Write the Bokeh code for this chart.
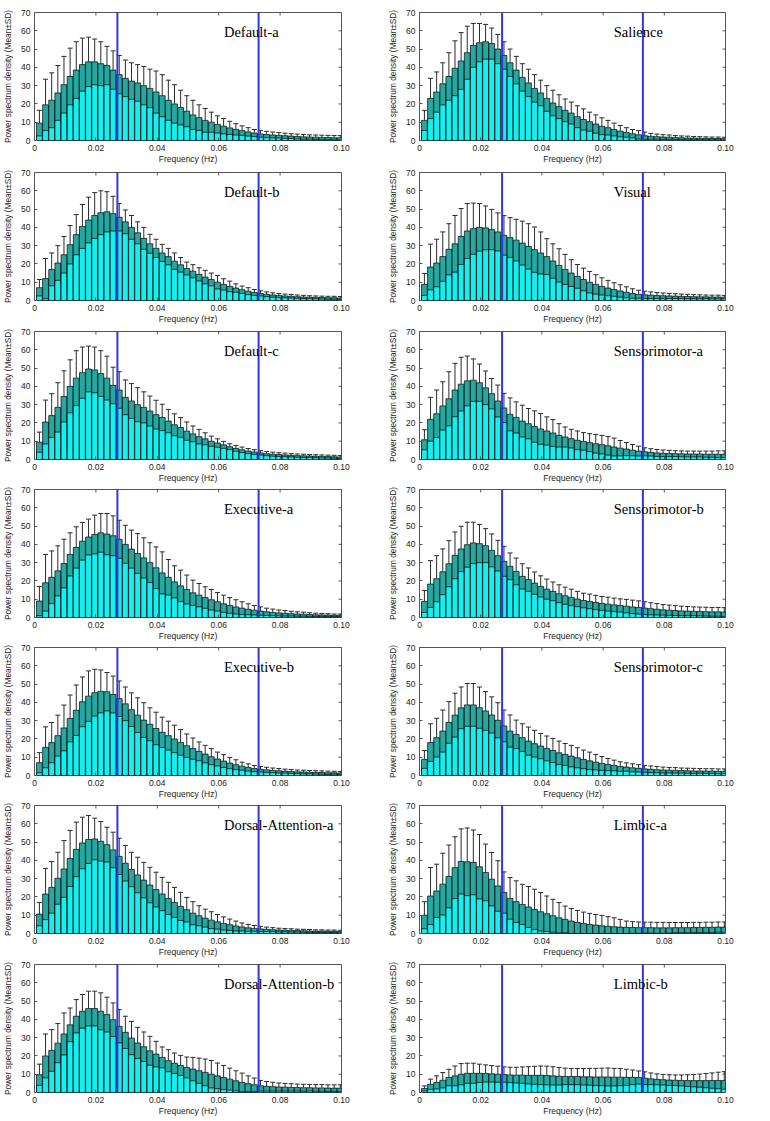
import math
from bokeh.plotting import figure
from bokeh.layouts import gridplot
from bokeh.models import (ColumnDataSource, Range1d, FixedTicker,
                          Span, Whisker, TeeHead, Label)
from bokeh.embed import file_html
from bokeh.resources import INLINE

# frequency bin centres (Hz), 50 bins between 0 and 0.1 Hz
freqs = [round(0.0016 + 0.002 * k, 4) for k in range(50)]
band_edges = [0.027, 0.073]          # slow-4 band limits (Hz)
x_ticks = [0, 0.02, 0.04, 0.06, 0.08, 0.1]
x_tick_labels = ["0", "0.02", "0.04", "0.06", "0.08", "0.10"]
y_ticks = [0, 10, 20, 30, 40, 50, 60, 70]

mean_default_a = [9.5, 19.5, 22, 26, 30.5, 35, 38.5, 41.5, 43, 43,
                  42, 41, 38.5, 36, 34, 32.5, 31.5, 30, 28.5, 26.5,
                  24.5, 22, 20, 18, 16, 14, 12.5, 11, 10, 8.8,
                  7.8, 6.9, 6.1, 5.4, 4.7, 4.1, 3.6, 3.3, 3.0, 2.8,
                  2.6, 2.4, 2.2, 2.0, 1.9, 1.8, 1.7, 1.6, 1.5, 1.5]
sd_default_a = [7, 14, 15, 15, 15.5, 15.5, 15.5, 14.5, 13.5, 12.5,
                12, 10.5, 10.5, 10.5, 10, 10, 10, 10.5, 10.5, 11.5,
                11.5, 11, 10.5, 9.5, 8.5, 8, 7, 6.5, 5.5, 4.7,
                4.2, 3.6, 3.1, 2.6, 2.3, 1.9, 1.8, 1.7, 1.6, 1.5,
                1.4, 1.3, 1.3, 1.3, 1.2, 1.2, 1.2, 1.2, 1.2, 1.2]

mean_salience = [11, 23, 26.5, 31, 35, 39.5, 43.5, 48, 52, 53.5,
                 54, 53, 50, 46.5, 42.5, 38.5, 34.5, 31.5, 28.5, 26,
                 23, 20.5, 18.5, 16.5, 15, 13, 11.5, 10.3, 9, 7.8,
                 7, 6, 5.1, 4.4, 3.7, 3.1, 2.6, 2.3, 2.1, 1.9,
                 1.8, 1.6, 1.5, 1.4, 1.3, 1.2, 1.2, 1.1, 1.1, 1.0]
sd_salience = [5.5, 11, 11, 11.5, 13, 15, 15.5, 14.5, 12, 10.5,
               9.5, 8.5, 8, 7.5, 7.5, 7.5, 7.5, 7.5, 7.5, 7,
               7, 7, 6.5, 6.2, 6, 6, 5.8, 5.2, 5, 4.6,
               4, 3.5, 3.1, 2.6, 2.3, 2.3, 2.0, 1.6, 1.4, 1.3,
               1.2, 1.1, 1.0, 1.0, 0.9, 0.9, 0.8, 0.8, 0.8, 0.8]

mean_default_b = [7, 12, 17, 20.5, 25, 30.5, 36, 40.5, 44, 46.5,
                  48, 48.5, 47.5, 45.5, 43, 40, 37, 34, 31, 28.5,
                  26, 24, 21.5, 19.5, 17.5, 16, 14.3, 12.8, 11.5, 10,
                  8.8, 7.7, 6.8, 5.9, 5.1, 4.4, 3.9, 3.4, 3.0, 2.7,
                  2.5, 2.3, 2.1, 1.9, 1.8, 1.7, 1.6, 1.5, 1.5, 1.4]
sd_default_b = [4.5, 11, 9, 9.5, 10, 10.5, 11, 12, 12.5, 12.5,
                12, 11, 9.5, 7.5, 6.5, 6.5, 6, 6, 5.2, 5,
                4.7, 4.5, 4.5, 4, 3.5, 3.6, 3.6, 3.7, 3.5, 3.7,
                3.1, 2.9, 2.3, 2.0, 1.9, 1.6, 1.4, 1.3, 1.2, 1.1,
                1.0, 1.0, 0.9, 0.9, 0.8, 0.8, 0.8, 0.8, 0.8, 0.8]

mean_visual = [8.8, 18.3, 20.5, 24, 28, 31, 35, 38, 39.3, 40,
               39.7, 38.8, 37.5, 35.6, 34.4, 33, 31.4, 29.6, 27.8, 26,
               24, 21.6, 19.2, 17, 15, 13.2, 11.5, 10, 8.8, 7.7,
               6.8, 6, 5.2, 4.5, 3.8, 3.4, 3.1, 2.9, 2.7, 2.6,
               2.5, 2.4, 2.3, 2.2, 2.1, 2.0, 2.0, 1.9, 1.9, 1.8]
sd_visual = [6, 12.5, 13, 13.5, 14, 15.5, 15.3, 15, 14, 13,
             12, 11, 10.4, 10.8, 10.9, 11.4, 12, 12.4, 12.4, 11.5,
             9.8, 9.4, 9.1, 8.2, 7.3, 6.5, 6.2, 5.9, 5.3, 4.7,
             4.2, 3.7, 3.4, 3.0, 2.6, 2.2, 2.0, 1.8, 1.6, 1.5,
             1.4, 1.3, 1.2, 1.2, 1.1, 1.1, 1.0, 1.0, 1.0, 1.0]

mean_default_c = [9.5, 20.5, 24, 28.5, 34.5, 40, 44.5, 47.5, 49.5, 49,
                  47, 44.5, 40.5, 38, 34, 32, 30, 28.5, 26.5, 24.5,
                  23, 21, 19, 17.5, 15.5, 14, 12.5, 11.3, 10, 9,
                  8, 7, 6.1, 5.3, 4.6, 4.1, 3.6, 3.2, 2.9, 2.7,
                  2.5, 2.3, 2.1, 2.0, 1.9, 1.8, 1.7, 1.6, 1.5, 1.4]
sd_default_c = [5.5, 12, 12, 13.5, 14, 14.5, 15, 14, 12.5, 12.5,
                12.5, 12, 10, 10, 9.5, 9.5, 9.3, 8.5, 8.2, 7.9,
                7.2, 6.4, 6, 5.4, 5, 4.3, 4, 3.3, 2.8, 2.3,
                1.9, 1.6, 1.6, 1.5, 1.4, 1.3, 1.2, 1.1, 1.1, 1.0,
                1.0, 0.9, 0.9, 0.9, 0.8, 0.8, 0.8, 0.8, 0.8, 0.8]

mean_sensorimotor_a = [10.8, 22, 25, 29.3, 33.2, 38, 41.2, 43, 43.4, 42,
                       39.2, 36, 32, 28.2, 24.7, 23, 21, 19.6, 18, 16.7,
                       15.6, 14.5, 13.2, 12.3, 11.4, 10.5, 9.9, 9.2, 8.6, 8.1,
                       7.5, 6.8, 6.2, 5.7, 5.1, 4.6, 4.2, 3.9, 3.6, 3.4,
                       3.3, 3.2, 3.1, 3.0, 3.0, 3.0, 2.9, 2.9, 2.9, 2.9]
sd_sensorimotor_a = [5.5, 12, 13, 13.2, 14.8, 14.6, 14.7, 13.6, 11.6, 10.2,
                     9.2, 8.3, 8.7, 8, 9, 8.5, 8.7, 8.3, 8.6, 8.4,
                     7.7, 7.3, 6.4, 5.5, 5.1, 5.1, 4.8, 4.9, 5.1, 5.1,
                     5.1, 4.9, 4.2, 3.6, 3.1, 2.7, 2.2, 2.0, 1.9, 1.8,
                     1.7, 1.6, 1.6, 1.6, 1.6, 1.6, 1.7, 1.7, 1.8, 1.8]

mean_executive_a = [9, 19, 22, 25.5, 29.5, 34.5, 38.3, 41.7, 44, 45.4,
                    46.3, 45.6, 44.7, 42.8, 40, 37.4, 35, 32.6, 30, 27.2,
                    24.4, 22, 19.5, 17.3, 15.3, 13.5, 12.2, 10.9, 9.7, 8.6,
                    7.5, 6.6, 5.8, 5.1, 4.5, 4.0, 3.5, 3.1, 2.8, 2.5,
                    2.3, 2.1, 1.9, 1.8, 1.6, 1.5, 1.4, 1.3, 1.2, 1.2]
sd_executive_a = [8, 15.5, 14.4, 13.7, 13.3, 11.8, 11.3, 10.3, 9.8, 10.6,
                  10.6, 11.3, 10.9, 10.4, 10.4, 10.4, 10.9, 11, 10.9, 11.4,
                  11.5, 9.7, 8.8, 8.6, 7.9, 6.9, 6.4, 5.9, 5.6, 5.1,
                  4.7, 4.3, 3.9, 3.5, 3.0, 2.6, 2.3, 2.0, 1.8, 1.6,
                  1.5, 1.3, 1.2, 1.1, 1.0, 0.9, 0.8, 0.8, 0.7, 0.7]

mean_sensorimotor_b = [8.8, 18.3, 21.2, 25, 29.4, 34, 37.5, 39.8, 40.8, 40.4,
                       39.3, 36.7, 33.8, 30.7, 28, 25.2, 22.5, 20.7, 18.8, 17,
                       15.5, 14.3, 13, 11.9, 11, 10.1, 9.3, 8.8, 8.2, 7.7,
                       7.3, 6.9, 6.6, 6.2, 5.8, 5.5, 5.1, 4.8, 4.5, 4.2,
                       4.0, 3.8, 3.6, 3.5, 3.4, 3.3, 3.2, 3.1, 3.1, 3.0]
sd_sensorimotor_b = [6, 12.8, 12.6, 12.5, 12.6, 12.8, 12.4, 12.3, 11.3, 10.4,
                     9.3, 9, 8.4, 8.2, 7.3, 7.3, 6.9, 6.4, 6.1, 5.8,
                     5.5, 5.1, 4.9, 4.7, 4.5, 4.2, 4.0, 4.0, 3.9, 3.8,
                     3.8, 3.7, 3.6, 3.7, 3.7, 3.6, 3.5, 3.3, 3.1, 2.9,
                     2.8, 2.7, 2.6, 2.5, 2.4, 2.4, 2.4, 2.4, 2.4, 2.4]

mean_executive_b = [7, 15.4, 18, 21.8, 26, 31.2, 35.7, 40.3, 43.4, 45.3,
                    46, 45.8, 44.3, 42, 39.2, 36, 33, 30.3, 28, 25.7,
                    23.6, 21.8, 20, 18.1, 16.3, 14.7, 13.2, 11.7, 10.3, 9,
                    7.9, 6.8, 5.9, 5.1, 4.4, 3.8, 3.4, 3.1, 2.8, 2.6,
                    2.4, 2.2, 2.0, 1.9, 1.8, 1.7, 1.6, 1.5, 1.5, 1.4]
sd_executive_b = [5.5, 11.2, 11, 11.2, 12.5, 12.8, 13.8, 13.6, 13.8, 12.8,
                  11.7, 10.5, 10.1, 9.7, 9.2, 9.2, 9.5, 9.5, 9, 8.9,
                  8.3, 7.9, 7.5, 7, 6.4, 5.8, 5.1, 4.8, 4.4, 3.8,
                  3.5, 3.1, 2.7, 2.2, 2.0, 1.7, 1.5, 1.4, 1.3, 1.2,
                  1.1, 1.1, 1.0, 1.0, 0.9, 0.9, 0.9, 0.9, 0.8, 0.8]

mean_sensorimotor_c = [8.8, 18, 20.7, 24.3, 29, 33, 37, 38.6, 38.6, 37.1,
                       35.3, 33.1, 30.2, 27.1, 24.3, 22.5, 20.7, 18.8, 17.4, 16.1,
                       14.8, 13.7, 12.4, 11.5, 10.6, 9.7, 8.8, 8, 7.3, 6.6,
                       6, 5.5, 4.9, 4.6, 4.2, 3.9, 3.6, 3.4, 3.2, 3.0,
                       2.9, 2.8, 2.7, 2.6, 2.5, 2.5, 2.4, 2.4, 2.3, 2.3]
sd_sensorimotor_c = [4.9, 10.3, 10.6, 11.5, 11.4, 12, 11.4, 11.7, 11.7, 11.3,
                     10.6, 9.9, 9.6, 8.7, 8.8, 7.8, 7.6, 7.7, 7.3, 6.9,
                     6.8, 6.6, 6.4, 6, 5.9, 5.5, 5.1, 4.8, 4.2, 3.8,
                     3.3, 2.9, 2.6, 2.3, 2.2, 2.0, 1.9, 1.8, 1.7, 1.6,
                     1.5, 1.5, 1.4, 1.4, 1.4, 1.3, 1.3, 1.3, 1.3, 1.3]

mean_dorsal_attention_a = [10.6, 21.6, 25.2, 30.2, 35.3, 41, 46, 49.5, 51.4, 51.7,
                           50.4, 48.6, 45.7, 42.2, 38.4, 35, 32, 29.2, 26.5, 24,
                           21.6, 19.2, 17, 14.8, 13, 11.1, 9.7, 8.4, 7.3, 6.4,
                           5.5, 4.8, 4.1, 3.6, 3.1, 2.8, 2.5, 2.3, 2.1, 1.9,
                           1.8, 1.7, 1.6, 1.5, 1.4, 1.3, 1.3, 1.2, 1.2, 1.1]
sd_dorsal_attention_a = [6.4, 14, 14.1, 14.2, 15.5, 15.3, 14.9, 14.1, 13.1, 11.4,
                         10.8, 9.5, 9.7, 9.9, 9.7, 9.4, 9.7, 9.7, 9.7, 9.5,
                         9.1, 8.8, 8.2, 7.7, 6.7, 6.3, 5.5, 4.9, 4.6, 4.0,
                         3.6, 3.1, 2.7, 2.2, 1.9, 1.6, 1.4, 1.2, 1.1, 1.0,
                         0.9, 0.9, 0.8, 0.8, 0.8, 0.7, 0.7, 0.7, 0.7, 0.7]

mean_limbic_a = [10, 20.5, 23.3, 27, 31.2, 36, 39.4, 39.2, 38.9, 36.5,
                 33.4, 29.7, 26, 22.4, 19.2, 17.4, 15.9, 14.5, 13.2, 11.9,
                 10.8, 9.7, 8.6, 7.7, 6.8, 6, 5.5, 4.9, 4.6, 4.2,
                 3.9, 3.7, 3.5, 3.4, 3.3, 3.2, 3.2, 3.2, 3.1, 3.1,
                 3.1, 3.2, 3.2, 3.2, 3.3, 3.3, 3.4, 3.4, 3.5, 3.5]
sd_limbic_a = [7.4, 15.6, 14.6, 16.9, 17.2, 16.9, 17.8, 18.5, 17.7, 17.6,
               15.5, 14.6, 13.8, 11.3, 11.4, 11.4, 11, 11.2, 11, 10.5,
               9.7, 9, 8.3, 7.3, 6.9, 6.6, 6.2, 6.1, 5.8, 5.7,
               5.3, 4.9, 4.2, 3.4, 3.2, 3.1, 3.0, 3.0, 3.0, 3.0,
               2.9, 2.8, 2.8, 2.8, 2.8, 2.8, 2.8, 2.8, 2.8, 2.8]

mean_dorsal_attention_b = [9.7, 20, 23, 27, 32, 37, 41.7, 44.4, 45.9, 45.9,
                           44.4, 42.6, 39.8, 36.2, 32.9, 29.8, 27.1, 25, 22.8, 21,
                           19.2, 17.4, 16, 14.8, 13.7, 12.8, 11.9, 11, 10, 9.1,
                           8.2, 7.3, 6.4, 5.5, 4.8, 4.2, 3.7, 3.4, 3.2, 3.0,
                           2.9, 2.8, 2.7, 2.6, 2.6, 2.5, 2.5, 2.4, 2.4, 2.4]
sd_dorsal_attention_b = [5.8, 12, 11.4, 10.7, 11.5, 9.2, 9.1, 9.2, 9.5, 9.5,
                         10.1, 9.5, 9.2, 9.1, 8.8, 9.1, 8.5, 8.1, 7.9, 7,
                         5.7, 6, 5.6, 5.5, 5.7, 6.4, 6.9, 7.3, 7.5, 7,
                         6.6, 6, 5.5, 5.1, 4.3, 3.7, 2.9, 2.6, 2.4, 2.2,
                         2.1, 2.0, 1.9, 1.9, 1.8, 1.8, 1.8, 1.8, 1.8, 1.8]

mean_limbic_b = [2.2, 4.5, 5.5, 6.7, 8.2, 9.1, 10, 10.5, 10.5, 10.5,
                 10.4, 10.2, 10, 9.8, 9.6, 9.5, 9.5, 9.4, 9.4, 9.4,
                 9.3, 9.1, 8.9, 8.8, 8.7, 8.7, 8.6, 8.6, 8.5, 8.5,
                 8.5, 8.4, 8.4, 8.3, 8.3, 8.2, 7.8, 7.5, 7.2, 7.0,
                 6.8, 6.7, 6.6, 6.5, 6.5, 6.5, 6.5, 6.5, 6.6, 6.6]
sd_limbic_b = [1.4, 2.8, 3.6, 4.2, 4.5, 5.4, 5.8, 5.5, 5.5, 5,
               4.7, 4.5, 4.4, 4.2, 4.2, 4.3, 4.5, 4.7, 4.9, 5.1,
               5.1, 5, 4.8, 4.5, 4.4, 4.4, 4.5, 4.6, 4.7, 4.8,
               4.9, 4.8, 4.7, 4.4, 4.0, 3.6, 3.5, 3.2, 3.0, 2.9,
               2.9, 2.9, 3.0, 3.2, 3.4, 3.6, 3.9, 4.2, 4.5, 4.8]

left_names = ["Default-a", "Default-b", "Default-c", "Executive-a",
              "Executive-b", "Dorsal-Attention-a", "Dorsal-Attention-b"]
left_means = [mean_default_a, mean_default_b, mean_default_c, mean_executive_a,
              mean_executive_b, mean_dorsal_attention_a, mean_dorsal_attention_b]
left_sds = [sd_default_a, sd_default_b, sd_default_c, sd_executive_a,
            sd_executive_b, sd_dorsal_attention_a, sd_dorsal_attention_b]
right_names = ["Salience", "Visual", "Sensorimotor-a", "Sensorimotor-b",
               "Sensorimotor-c", "Limbic-a", "Limbic-b"]
right_means = [mean_salience, mean_visual, mean_sensorimotor_a, mean_sensorimotor_b,
               mean_sensorimotor_c, mean_limbic_a, mean_limbic_b]
right_sds = [sd_salience, sd_visual, sd_sensorimotor_a, sd_sensorimotor_b,
             sd_sensorimotor_c, sd_limbic_a, sd_limbic_b]

TEAL = "#23A9A1"
CYAN = "#14F0F0"
BLUE = "#3434E2"
FRAME = "#555555"
TXT = "#222222"
SANS = "Liberation Sans"
SERIF = "Liberation Serif"

# (figure height, top border) per row; every frame is 128 px tall
ROWS = [(168, 12), (159, 4), (158, 4), (158, 4), (158, 4), (159, 4), (159, 4)]
FRAME_H = 128


def make_panel(name, mean, sd, col, height, top):
    if col == 0:
        width, bl, br = 385, 33, 44
        title_x = 0.0617
    else:
        width, bl, br = 383, 33, 43
        title_x = 0.0635
    p = figure(width=width, height=height, x_range=Range1d(0, 0.1),
               y_range=Range1d(0, 70), output_backend="svg",
               toolbar_location=None, min_border_left=bl, min_border_right=br,
               min_border_top=top, min_border_bottom=height - top - FRAME_H)
    p.xgrid.grid_line_color = None
    p.ygrid.grid_line_color = None
    p.outline_line_color = FRAME
    p.outline_line_width = 1
    p.background_fill_color = "white"
    p.border_fill_color = "white"

    low = [max(m - s, 0) for m, s in zip(mean, sd)]
    up = [m + s for m, s in zip(mean, sd)]
    src = ColumnDataSource(dict(x=freqs, mean=mean, low=low, up=up))

    p.vbar(x="x", top="mean", bottom=0, width=0.0019, source=src,
           fill_color=TEAL, line_color="black", line_width=0.7)
    p.vbar(x="x", top="low", bottom=0, width=0.0019, source=src,
           fill_color=CYAN, line_color="black", line_width=0.7)

    wh = Whisker(source=src, base="x", upper="up", lower="mean",
                 line_color="#2a2a2a", line_width=1, level="annotation",
                 upper_head=TeeHead(size=5, line_color="#2a2a2a", line_width=1),
                 lower_head=None)
    p.add_layout(wh)

    # MATLAB-style box: inward tick marks on the top and right edges too
    p.scatter(x=x_ticks, y=[70] * len(x_ticks), marker="dash", size=6,
              angle=math.pi / 2, line_color=FRAME, line_width=1)
    p.scatter(x=[0.1] * len(y_ticks), y=y_ticks, marker="dash", size=6,
              line_color=FRAME, line_width=1)

    for e in band_edges:
        p.add_layout(Span(location=e, dimension="height", line_color=BLUE,
                          line_width=2, level="annotation"))
    p.add_layout(Label(x=title_x, y=59.5, text=name, text_font=SERIF,
                       text_font_size="14.5px", text_baseline="middle",
                       text_color="black"))

    xa = p.below[0]
    ya = p.left[0]
    xa.ticker = FixedTicker(ticks=x_ticks)
    xa.major_label_overrides = dict(zip(x_ticks, x_tick_labels))
    ya.ticker = FixedTicker(ticks=y_ticks)
    xa.axis_label = "Frequency (Hz)"
    ya.axis_label = "Power spectrum density (Mean\u00b1SD)"
    for ax in (xa, ya):
        ax.axis_line_color = None
        ax.major_tick_in = 3
        ax.major_tick_out = 0
        ax.major_tick_line_color = FRAME
        ax.minor_tick_line_color = None
        ax.major_label_text_font = SANS
        ax.major_label_text_font_size = "8.5px"
        ax.major_label_text_color = TXT
        ax.axis_label_text_font = SANS
        ax.axis_label_text_font_style = "normal"
        ax.axis_label_text_color = TXT
    xa.axis_label_text_font_size = "8.5px"
    ya.axis_label_text_font_size = "8.3px"
    xa.major_label_standoff = 4
    xa.axis_label_standoff = 0
    ya.major_label_standoff = 4
    ya.axis_label_standoff = 5
    return p


rows = []
for i in range(7):
    h, top = ROWS[i]
    left = make_panel(left_names[i], left_means[i], left_sds[i], 0, h, top)
    right = make_panel(right_names[i], right_means[i], right_sds[i], 1, h, top)
    rows.append([left, right])

grid = gridplot(rows, toolbar_location=None)

with open("out.html", "w") as f:
    f.write(file_html(grid, INLINE))
